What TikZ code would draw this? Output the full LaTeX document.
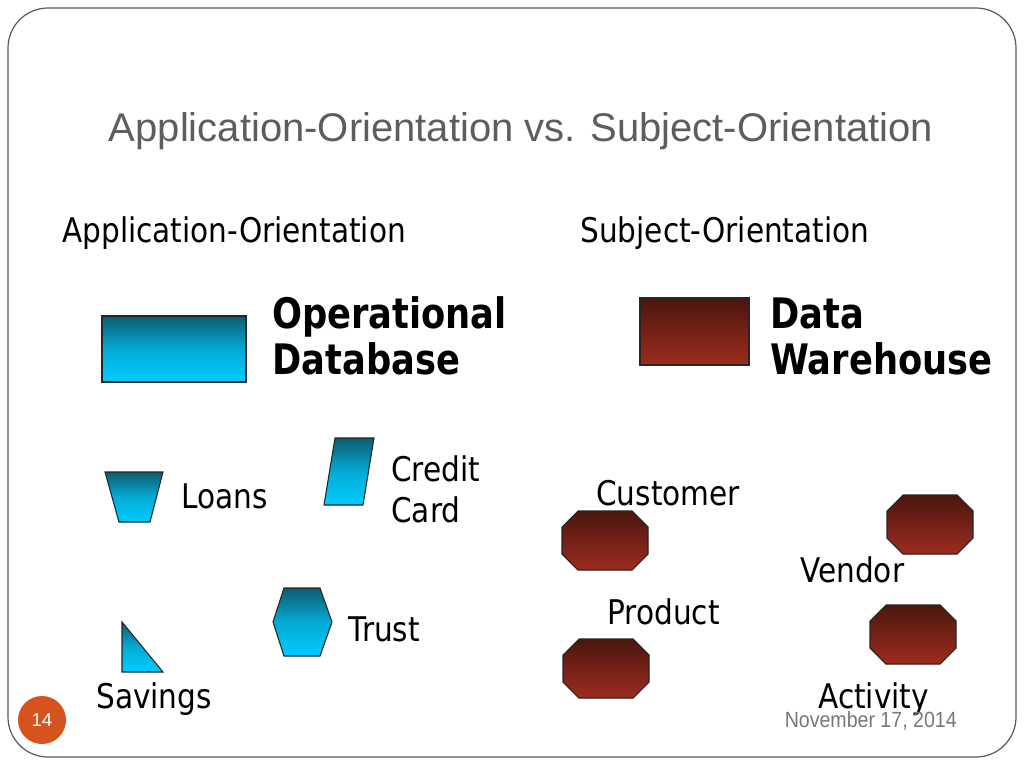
\documentclass[tikz,border=0pt]{standalone}
\usepackage{fontspec}
\usepackage{tikz}
\usetikzlibrary{positioning,shapes}
\setmainfont{Liberation Sans}
\newfontfamily\labfont[FakeStretch=0.87]{DejaVu Sans}
\newfontfamily\headfont[FakeStretch=0.84]{DejaVu Sans}
\newfontfamily\datefont[FakeStretch=0.89]{Liberation Sans}
\definecolor{bluetop}{RGB}{12,92,112}
\definecolor{bluebot}{RGB}{0,204,255}
\definecolor{redtop}{RGB}{74,22,14}
\definecolor{redbot}{RGB}{158,44,30}
\definecolor{titlegray}{RGB}{96,92,92}
\definecolor{dategray}{RGB}{120,120,120}
\definecolor{pagered}{RGB}{214,82,30}

\begin{document}
\begin{tikzpicture}[x=0.75pt,y=-0.75pt,
        opbox/.style={top color=bluetop,bottom color=bluebot,middle color=bluebot!70!bluetop,draw=black!85,line width=0.8pt},
        dwbox/.style={top color=redtop,bottom color=redbot,draw=black!85,line width=0.8pt},
        lab/.style={font=\labfont\fontsize{25.5}{30}\selectfont,anchor=base west,inner sep=0pt},
        head/.style={font=\headfont\bfseries\fontsize{31.5}{35}\selectfont,anchor=base west,inner sep=0pt,align=left}]
        \fill[white] (0,0) rectangle (1024,768);
        \useasboundingbox (0,0) rectangle (1024,768);
        \draw[black!65,line width=0.9pt,rounded corners=30pt] (8,8) rectangle (1016,757);

        \node[anchor=base,inner sep=0pt,text=titlegray,font=\fontsize{30}{36}\selectfont] (title) at (521,141) {Application-Orientation vs. Subject-Orientation};

        \node[lab] (appor) at (62,242) {Application-Orientation};
        \node[lab] (subor) at (580,242) {Subject-Orientation};

        % application side
        \shade[opbox] (102,316) rectangle (246,382);
        \node[head] (opdb) at (272,328) {Operational};
        \node[head] (opdb2) at (272,374) {Database};

        \shade[opbox] (105,472) -- (163,472) -- (150,522) -- (119,522) -- cycle;
        \node[lab] (loans) at (181,508) {Loans};

        \shade[opbox] (335,438) -- (374,438) -- (363,505) -- (324,505) -- cycle;
        \node[lab] (credit) at (391,481) {Credit};
        \node[lab] (card) at (391,522) {Card};

        \shade[opbox] (284,588) -- (320,588) -- (332,622) -- (320,656) -- (284,656) -- (273,622) -- cycle;
        \node[lab] (trust) at (348,641) {Trust};

        \shade[opbox] (122,622) -- (163,672) -- (122,672) -- cycle;
        \node[lab] (savings) at (96,708) {Savings};

        % subject side
        \shade[dwbox] (640,298) rectangle (749,365);
        \node[head] (dw) at (770,328) {Data};
        \node[head] (dw2) at (770,374) {Warehouse};

        \foreach \x/\y in {562/511, 887/495, 563/639, 870/605}{
            \begin{scope}[shift={(\x,\y)}]
                \shade[dwbox] (16,0) -- (70,0) -- (86,16) -- (86,43) -- (70,59) -- (16,59) -- (0,43) -- (0,16) -- cycle;
            \end{scope}
        }
        \node[lab] (cust) at (596,505) {Customer};
        \node[lab] (vend) at (800,582) {Vendor};
        \node[lab] (prod) at (607,624) {Product};
        \node[lab] (act) at (818,708) {Activity};

        % footer
        \node[circle,fill=pagered,minimum size=36pt,inner sep=0pt,text=white,font=\fontsize{14}{16}\selectfont] (page) at (42,720) {14};
        \node[anchor=base east,inner sep=0pt,text=dategray,font=\datefont\fontsize{16.5}{19}\selectfont] (date) at (957,727) {November 17, 2014};
    \end{tikzpicture}
\end{document}
